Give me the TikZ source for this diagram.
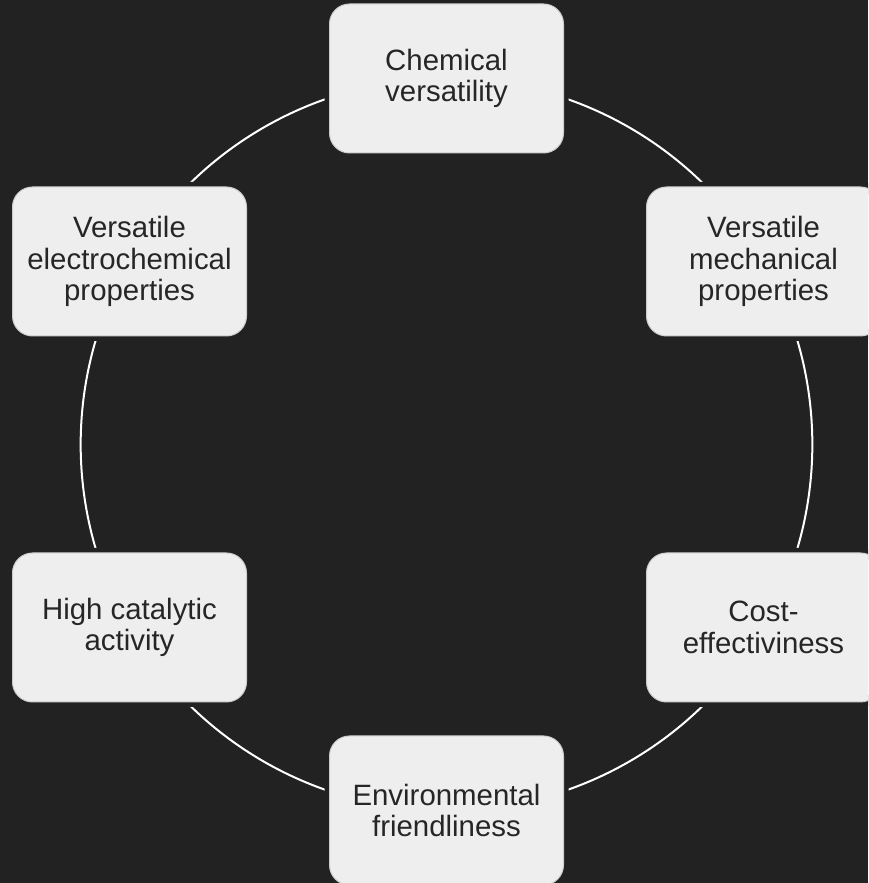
\documentclass[tikz,border=0pt]{standalone}
\usepackage{fontspec}
\setmainfont{Liberation Sans}
\usepackage{tikz}
\usetikzlibrary{backgrounds}
\definecolor{bgdark}{HTML}{222222}
\definecolor{boxfill}{HTML}{EEEEEE}
\definecolor{boxline}{HTML}{CCCCCC}
\definecolor{txtdark}{HTML}{262626}
\tikzstyle{feat}=[rectangle, rounded corners=10pt, fill=boxfill, draw=boxline,% light box with a dark halo
line width=0.5pt, preaction={draw=bgdark, line width=5pt},
minimum width=117pt, minimum height=74.5pt, align=center, text=txtdark,
font=\fontsize{14.7}{15.8}\selectfont]
\tikzstyle{ring}=[draw=white, line width=1pt, looseness=0.9126]
\begin{document}
\begin{tikzpicture}[x=0.5pt,y=0.5pt]
\useasboundingbox (0,0) rectangle (868,883);
\clip (0,0) rectangle (868,883);
\node[feat] (chem) at (446.5,804.5) {Chemical\\versatility};
\node[feat] (vmech) at (763.5,621.5) {Versatile\\mechanical\\properties};
\node[feat] (cost) at (763.5,255.5) {Cost-\\effectiviness};
\node[feat] (env) at (446.5,72.5) {Environmental\\friendliness};
\node[feat] (hcat) at (129.5,255.5) {High catalytic\\activity};
\node[feat] (velec) at (129.5,621.5) {Versatile\\electrochemical\\properties};
\begin{scope}[on background layer]
\fill[bgdark] (0,0) rectangle (868,883);
\draw[ring] (chem.center) to[out=0,in=120] (vmech.center);
\draw[ring] (vmech.center) to[out=-60,in=60] (cost.center);
\draw[ring] (cost.center) to[out=-120,in=0] (env.center);
\draw[ring] (env.center) to[out=180,in=-60] (hcat.center);
\draw[ring] (hcat.center) to[out=120,in=-120] (velec.center);
\draw[ring] (velec.center) to[out=60,in=180] (chem.center);
\end{scope}
\end{tikzpicture}
\end{document}
